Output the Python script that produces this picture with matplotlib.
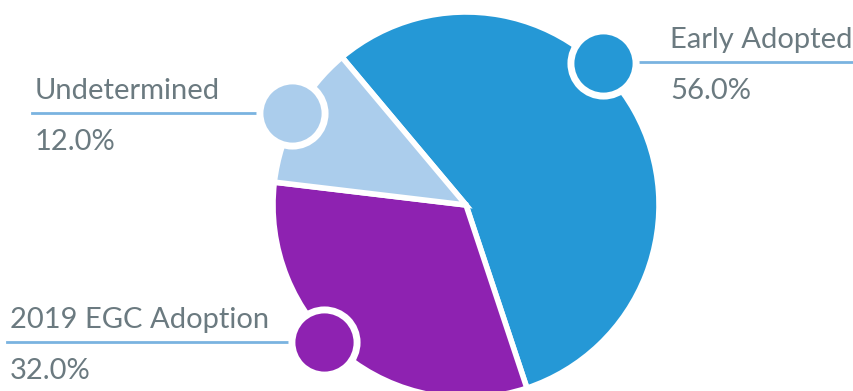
import numpy as np
from matplotlib import pyplot as plt

labels = ['Early Adopted', '2019 EGC Adoption', 'Undetermined']
shares = [56.0, 32.0, 12.0]
colors = ['#2598d6', '#8e22b1', '#abcdec']

# where each callout dot sits on the pie (degrees) and where its text goes
dot_angles = [46, 224, 152]
text_x = [670, 10, 35]
line_span = [(640, 854), (7, 297), (32, 260)]
line_y = [62, 342, 113]

text_color = '#6b7a80'
line_color = '#7ab3e0'


def main():
    fig = plt.figure(figsize=(8.54, 3.91), dpi=100)
    ax = fig.add_axes([0, 0, 1, 1])
    H = 391
    cx, cy, r = 466, H - 205, 193

    ax.pie(shares, colors=colors, startangle=130, counterclock=False,
           center=(cx, cy), radius=r,
           wedgeprops=dict(edgecolor='white', linewidth=4))

    for i in range(len(labels)):
        a = np.deg2rad(dot_angles[i])
        px = cx + 197 * np.cos(a)
        py = cy + 197 * np.sin(a)
        ax.scatter([px], [py], s=2200, color=colors[i], edgecolors='white',
                   linewidths=5, zorder=5)
        x0, x1 = line_span[i]
        ax.plot([x0, x1], [H - line_y[i]] * 2, color=line_color, lw=2, zorder=4)
        ax.text(text_x[i], H - line_y[i] + 14, labels[i], fontsize=21,
                family='Lato', color=text_color, va='baseline', ha='left')
        ax.text(text_x[i], H - line_y[i] - 37, '{:.1f}%'.format(shares[i]),
                fontsize=21, family='Lato', color=text_color, va='baseline', ha='left')

    ax.set_xlim(0, 854)
    ax.set_ylim(0, H)
    ax.set_aspect('equal')
    ax.axis('off')
    fig.savefig('out.png', dpi=100)


if __name__ == "__main__":
    main()
